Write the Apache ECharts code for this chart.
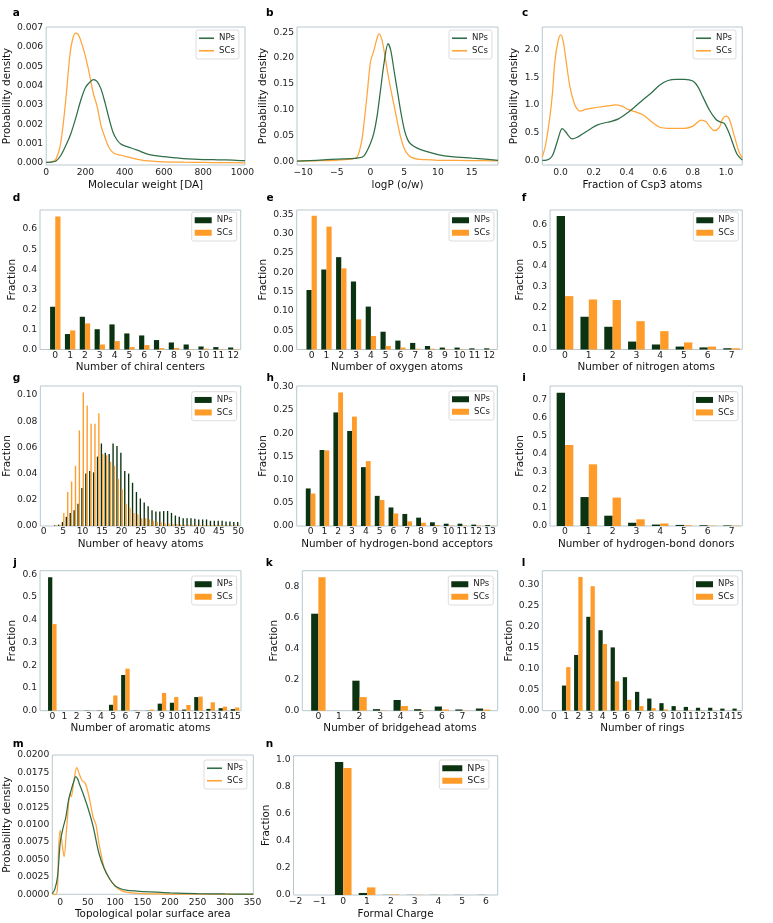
<!DOCTYPE html>
<html><head><meta charset="utf-8">
<script src="https://cdn.jsdelivr.net/npm/echarts@6/dist/echarts.min.js"></script>
<style>html,body{margin:0;padding:0;background:#fff}#c{width:773px;height:923px}</style>
</head><body><div id="c"></div>
<script>
// ---------------- DATA ----------------
// a: molecular weight KDE
const aNPsX = [0,25,50,75,100,125,150,175,200,225,240,260,280,300,320,340,360,380,400,440,480,520,600,650,700,750,800,850,900,950,1000,1013];
const aNPsY = [0.00003,0.00005,0.0001,0.0004,0.0009,0.0015,0.0023,0.0032,0.0039,0.0042,0.0043,0.0042,0.0038,0.0031,0.0023,0.0016,0.0012,0.00098,0.00088,0.00075,0.0006,0.00045,0.00033,0.00028,0.00023,0.0002,0.00018,0.00017,0.00016,0.00015,0.00012,0.00012];
const aSCsX = [0,25,50,75,100,120,135,150,165,180,200,220,240,260,280,300,320,345,380,420,460,500,600,700,800,900,1013];
const aSCsY = [0.00003,0.00005,0.0002,0.0011,0.0033,0.0055,0.0064,0.0067,0.0066,0.0062,0.0055,0.0046,0.0036,0.0029,0.0019,0.0013,0.0008,0.0005,0.0004,0.0003,0.0002,0.00012,0.00006,0.00004,0.00003,0.00002,0.00001];
// b: logP KDE
const bNPsX = [-10.9,-10,-8,-5,-3,-2,-1,0,0.5,1,1.5,2,2.6,3,3.5,4,4.5,5,5.5,6,7,8,10,12,15,17,18.9];
const bNPsY = [0.0005,0.0008,0.002,0.004,0.005,0.006,0.01,0.035,0.055,0.09,0.14,0.19,0.228,0.215,0.175,0.135,0.095,0.062,0.042,0.033,0.025,0.020,0.013,0.009,0.006,0.004,0.002];
const bSCsX = [-10.9,-8,-5,-3,-2,-1.3,-1,-0.5,0,0.5,1,1.3,1.7,2,2.5,3,3.5,4,4.5,5,5.5,6,7,8,10,15,18.9];
const bSCsY = [0.0005,0.001,0.002,0.004,0.008,0.04,0.07,0.13,0.193,0.215,0.24,0.247,0.235,0.215,0.175,0.14,0.108,0.075,0.045,0.025,0.014,0.008,0.004,0.003,0.002,0.0015,0.001];
// c: fraction Csp3 KDE
const cNPsX = [-0.111,-0.085,-0.06,-0.044,-0.02,0,0.01,0.03,0.05,0.07,0.1,0.137,0.18,0.22,0.28,0.3,0.35,0.4,0.45,0.5,0.55,0.6,0.65,0.7,0.75,0.8,0.83,0.86,0.9,0.94,0.97,0.99,1.02,1.065,1.099];
const cNPsY = [0.005,0.01,0.05,0.13,0.35,0.54,0.575,0.52,0.44,0.39,0.42,0.49,0.57,0.64,0.69,0.70,0.75,0.85,0.97,1.10,1.22,1.36,1.44,1.46,1.46,1.43,1.33,1.15,0.91,0.74,0.69,0.67,0.49,0.13,0.01];
const cSCsX = [-0.111,-0.09,-0.065,-0.05,-0.034,-0.015,0,0.015,0.03,0.056,0.08,0.097,0.117,0.15,0.2,0.25,0.3,0.33,0.37,0.4,0.45,0.5,0.55,0.6,0.65,0.7,0.75,0.8,0.85,0.88,0.9,0.93,0.96,0.98,1.0,1.02,1.05,1.08,1.099];
const cSCsY = [0.06,0.3,0.79,1.2,1.81,2.15,2.257,2.15,1.85,1.33,1.05,0.94,0.89,0.92,0.95,0.97,0.99,1.0,0.98,0.93,0.88,0.82,0.70,0.60,0.58,0.58,0.58,0.62,0.73,0.70,0.62,0.54,0.60,0.75,0.80,0.75,0.45,0.15,0.05];
// d: chiral centers
const dCats = [0,1,2,3,4,5,6,7,8,9,10,11,12];
const dNPs = [0.213,0.077,0.163,0.101,0.125,0.080,0.070,0.047,0.035,0.025,0.015,0.012,0.010];
const dSCs = [0.662,0.095,0.130,0.025,0.042,0.012,0.022,0.007,0.008,0.002,0.004,0.002,0.002];
// e: oxygen atoms
const eCats = [0,1,2,3,4,5,6,7,8,9,10,11,12];
const eNPs = [0.154,0.207,0.239,0.176,0.111,0.046,0.023,0.017,0.009,0.005,0.005,0.003,0.003];
const eSCs = [0.346,0.318,0.210,0.078,0.035,0.009,0.005,0.002,0.002,0.001,0.001,0.0005,0.0005];
// f: nitrogen atoms
const fCats = [0,1,2,3,4,5,6,7];
const fNPs = [0.640,0.157,0.109,0.038,0.024,0.014,0.010,0.006];
const fSCs = [0.256,0.240,0.237,0.136,0.088,0.034,0.014,0.006];
// g: heavy atoms
const gCats = [0,1,2,3,4,5,6,7,8,9,10,11,12,13,14,15,16,17,18,19,20,21,22,23,24,25,26,27,28,29,30,31,32,33,34,35,36,37,38,39,40,41,42,43,44,45,46,47,48,49,50];
const gNPs = [0,0,0,0.0005,0.001,0.003,0.007,0.010,0.012,0.017,0.029,0.040,0.042,0.041,0.053,0.063,0.056,0.055,0.063,0.061,0.056,0.042,0.040,0.033,0.026,0.021,0.018,0.015,0.012,0.011,0.011,0.0115,0.0115,0.010,0.008,0.007,0.006,0.006,0.006,0.0055,0.005,0.005,0.005,0.004,0.004,0.004,0.004,0.0035,0.0035,0.003,0.003];
const gSCs = [0,0,0,0.0005,0.001,0.010,0.026,0.034,0.046,0.073,0.102,0.092,0.078,0.078,0.086,0.055,0.054,0.049,0.046,0.036,0.028,0.017,0.014,0.010,0.009,0.006,0.006,0.005,0.004,0.003,0.003,0.002,0.002,0.0015,0.0015,0.001,0.001,0.001,0.001,0.001,0.001,0.0008,0.0008,0.0008,0.0007,0.0007,0.0006,0.0006,0.0005,0.0005,0.0005];
// h: H-bond acceptors
const hCats = [0,1,2,3,4,5,6,7,8,9,10,11,12,13];
const hNPs = [0.081,0.164,0.245,0.205,0.127,0.065,0.040,0.026,0.018,0.008,0.005,0.005,0.003,0.002];
const hSCs = [0.070,0.163,0.288,0.236,0.140,0.056,0.027,0.010,0.007,0.002,0.001,0.001,0.001,0.0005];
// i: H-bond donors
const iCats = [0,1,2,3,4,5,6,7];
const iNPs = [0.736,0.160,0.057,0.018,0.008,0.006,0.004,0.003];
const iSCs = [0.448,0.341,0.157,0.037,0.014,0.004,0.002,0.002];
// j: aromatic atoms
const jCats = [0,1,2,3,4,5,6,7,8,9,10,11,12,13,14,15];
const jNPs = [0.587,0,0,0.001,0.001,0.026,0.157,0.001,0.001,0.031,0.035,0.005,0.060,0.008,0.011,0.007];
const jSCs = [0.381,0,0,0.001,0.001,0.067,0.185,0.001,0.005,0.078,0.060,0.025,0.062,0.037,0.018,0.014];
// k: bridgehead atoms
const kCats = [0,1,2,3,4,5,6,7,8];
const kNPs = [0.627,0,0.194,0.010,0.069,0.010,0.027,0.008,0.014];
const kSCs = [0.863,0,0.088,0.002,0.030,0.002,0.008,0.002,0.007];
// l: rings
const lCats = [0,1,2,3,4,5,6,7,8,9,10,11,12,13,14,15];
const lNPs = [0,0.060,0.133,0.224,0.192,0.151,0.080,0.045,0.029,0.018,0.011,0.009,0.007,0.007,0.005,0.005];
const lSCs = [0,0.104,0.319,0.297,0.159,0.070,0.026,0.011,0.006,0.003,0.001,0.001,0.0005,0.0005,0.0003,0.0003];
// m: TPSA KDE
const mNPsX = [-14.5,-10,-5,0,5,10,15,20,25,28,32,35,40,50,60,70,80,90,100,110,120,140,150,175,200,250,300,351.5];
const mNPsY = [0.0001,0.0007,0.0025,0.0075,0.0095,0.011,0.0135,0.015,0.0163,0.0169,0.0165,0.0158,0.0148,0.0125,0.0097,0.006,0.0037,0.0022,0.0012,0.0008,0.0006,0.00045,0.0004,0.0003,0.0002,0.0001,0.00005,0.00002];
const mSCsX = [-14.5,-8,-5,-3,0,3,7,12,18,20,25,30,35,40,45,50,55,60,65,70,75,80,90,100,110,120,130,150,175,200,351.5];
const mSCsY = [0,0,0.001,0.0066,0.0092,0.0075,0.0054,0.0099,0.0145,0.014,0.0164,0.0182,0.0172,0.0163,0.016,0.0148,0.013,0.011,0.010,0.0075,0.0055,0.0038,0.0022,0.0012,0.0006,0.0003,0.0002,0.0001,0.00005,0.00002,0];
// n: formal charge
const nCats = [-2,-1,0,1,2,3,4,5,6];
const nNPs = [0,0,0.980,0.015,0.001,0.001,0.001,0.001,0.001];
const nSCs = [0,0,0.936,0.056,0.004,0.002,0.001,0.0005,0.0003];

// tick labels
const aXT=[0,200,400,600,800,1000], aYT=[0,0.001,0.002,0.003,0.004,0.005,0.006,0.007];
const bXT=[-10,-5,0,5,10,15], bYT=[0,0.05,0.1,0.15,0.2,0.25];
const cXT=[0,0.2,0.4,0.6,0.8,1.0], cYT=[0,0.5,1,1.5,2];
const dYT=[0,0.1,0.2,0.3,0.4,0.5,0.6];
const eYT=[0,0.05,0.1,0.15,0.2,0.25,0.3,0.35];
const fYT=[0,0.1,0.2,0.3,0.4,0.5,0.6];
const gXT=[0,5,10,15,20,25,30,35,40,45,50], gYT=[0,0.02,0.04,0.06,0.08,0.1];
const hYT=[0,0.05,0.1,0.15,0.2,0.25,0.3];
const iYT=[0,0.1,0.2,0.3,0.4,0.5,0.6,0.7];
const jYT=[0,0.1,0.2,0.3,0.4,0.5,0.6];
const kYT=[0,0.2,0.4,0.6,0.8];
const lYT=[0,0.05,0.1,0.15,0.2,0.25,0.3];
const mXT=[0,50,100,150,200,250,300,350], mYT=[0,0.0025,0.005,0.0075,0.01,0.0125,0.015,0.0175,0.02];
const nYT=[0,0.2,0.4,0.6,0.8,1.0];

// ---------------- STYLE / LAYOUT ----------------
const FONT='DejaVu Sans';
const C_LNP='#2f6e48', C_LSC='#ffa53a', C_BNP='#0b3311', C_BSC='#ff9b28';
const FRAME='#b9c8d0';
const zip=(xs,ys)=>xs.map((x,i)=>[x,ys[i]]);

const P=[
 {id:'a',k:'line',L:44,R:245,T:27,B:165,xr:[0,1013],yr:[-0.000103,0.00702],xt:aXT,yt:aYT,xd:0,yd:3,xn:'Molecular weight [DA]',yn:'Probability density',yg:25,xg:11,xm:3,leg:[196,30],s:[zip(aNPsX,aNPsY),zip(aSCsX,aSCsY)],lt:[12.7,7.5]},
 {id:'b',k:'line',L:297,R:498,T:27,B:165,xr:[-10.9,18.9],yr:[-0.0072,0.2603],xt:bXT,yt:bYT,xd:0,yd:2,xn:'logP (o/w)',yn:'Probability density',yg:22,xg:11,xm:3,leg:[449,30],s:[zip(bNPsX,bNPsY),zip(bSCsX,bSCsY)],lt:[266,7.5]},
 {id:'c',k:'line',L:542.3,R:742.3,T:27,B:165,xr:[-0.111,1.099],yr:[-0.077,2.40],xt:cXT,yt:cYT,xd:1,yd:1,xn:'Fraction of Csp3 atoms',yn:'Probability density',yg:16,xg:11,xm:3,leg:[693,30],s:[zip(cNPsX,cNPsY),zip(cSCsX,cSCsY)],lt:[522,7.5]},
 {id:'d',k:'bar',L:40,R:240.7,T:210,B:349.5,xr:[-1.03,12.5],yr:[0,0.695],xt:dCats,yt:dYT,xd:0,yd:1,xn:'Number of chiral centers',yn:'Fraction',yg:16,xg:6.5,xm:1,leg:[191.7,212],c:dCats,s:[dNPs,dSCs],lt:[12.7,192.5]},
 {id:'e',k:'bar',L:296.7,R:497.3,T:210,B:349.5,xr:[-1.01,12.54],yr:[0,0.361],xt:eCats,yt:eYT,xd:0,yd:2,xn:'Number of oxygen atoms',yn:'Fraction',yg:21.5,xg:6.5,xm:1,leg:[449,212],c:eCats,s:[eNPs,eSCs],lt:[266.5,192.5]},
 {id:'f',k:'bar',L:550,R:742.3,T:210,B:349.5,xr:[-0.63,7.45],yr:[0,0.669],xt:fCats,yt:fYT,xd:0,yd:1,xn:'Number of nitrogen atoms',yn:'Fraction',yg:24,xg:7.5,xm:1,leg:[693.3,212],c:fCats,s:[fNPs,fSCs],lt:[521.7,192.5]},
 {id:'g',k:'bar',L:40,R:240.7,T:386,B:526,xr:[-0.85,50.6],yr:[0,0.1069],xt:gXT,yt:gYT,xd:0,yd:2,xn:'Number of heavy atoms',yn:'Fraction',yg:20.5,xg:7,xm:1,leg:[191.7,391.7],c:gCats,s:[gNPs,gSCs],lt:[12.7,373]},
 {id:'h',k:'bar',L:296.7,R:497.3,T:386,B:526,xr:[-1.01,13.53],yr:[0,0.302],xt:hCats,yt:hYT,xd:0,yd:2,xn:'Number of hydrogen-bond acceptors',yn:'Fraction',yg:21.5,xg:7,xm:1,leg:[449,391],c:hCats,s:[hNPs,hSCs],lt:[266.5,373]},
 {id:'i',k:'bar',L:550,R:742.3,T:386,B:526,xr:[-0.63,7.45],yr:[0,0.774],xt:iCats,yt:iYT,xd:0,yd:1,xn:'Number of hydrogen-bond donors',yn:'Fraction',yg:24,xg:7,xm:1,leg:[693,391.7],c:iCats,s:[iNPs,iSCs],lt:[522.3,373]},
 {id:'j',k:'bar',L:40,R:241,T:570.7,B:710.7,xr:[-1.01,15.49],yr:[0,0.616],xt:jCats,yt:jYT,xd:0,yd:1,xn:'Number of aromatic atoms',yn:'Fraction',yg:16,xg:9,xm:1,leg:[191.7,576],c:jCats,s:[jNPs,jSCs],lt:[13.3,557.5]},
 {id:'k',k:'bar',L:302.3,R:497.7,T:570.7,B:710.7,xr:[-0.78,8.71],yr:[0,0.905],xt:kCats,yt:kYT,xd:0,yd:1,xn:'Number of bridgehead atoms',yn:'Fraction',yg:21,xg:9,xm:1,leg:[448.3,576],c:kCats,s:[kNPs,kSCs],lt:[265.7,557.5]},
 {id:'l',k:'bar',L:542.3,R:742.3,T:570.7,B:710.7,xr:[-0.96,15.46],yr:[0,0.334],xt:lCats,yt:lYT,xd:0,yd:2,xn:'Number of rings',yn:'Fraction',yg:22,xg:9,xm:1,leg:[693,576],c:lCats,s:[lNPs,lSCs],lt:[521.7,557.5]},
 {id:'m',k:'line',L:52.3,R:253.3,T:755,B:894.3,xr:[-14.5,351.5],yr:[0,0.02],xt:mXT,yt:mYT,xd:0,yd:4,xn:'Topological polar surface area',yn:'Probability density',yg:31,xg:8.5,xm:3,leg:[204,760],s:[zip(mNPsX,mNPsY),zip(mSCsX,mSCsY)],lt:[12.7,739]},
 {id:'n',k:'bar',L:293.5,R:497.7,T:755.7,B:895,xr:[-2.09,6.49],yr:[0,1.027],xt:nCats,yt:nYT,xd:0,yd:1,xn:'Formal Charge',yn:'Fraction',yg:12.5,xg:9.5,xm:2,leg:[439.3,760],c:nCats,s:[nNPs,nSCs],lt:[265.7,739],big:true}
];

function fmt(v,d){const s=Math.abs(v).toFixed(d);return (v<0?'\u2212':'')+s;}

const option={animation:false,textStyle:{fontFamily:FONT},grid:[],xAxis:[],yAxis:[],series:[],legend:[],title:[]};
P.forEach((p,i)=>{
  option.grid.push({left:p.L,top:p.T,width:p.R-p.L,height:p.B-p.T,show:true,borderColor:FRAME,borderWidth:1,containLabel:false});
  option.xAxis.push({type:'value',gridIndex:i,min:p.xr[0],max:p.xr[1],
    axisLine:{show:false},axisTick:{show:false},splitLine:{show:false},
    axisLabel:{customValues:p.xt,formatter:(v)=>fmt(v,p.xd),fontSize:9.2,color:'#222',margin:p.xm,lineHeight:10,hideOverlap:false},
    name:p.xn,nameLocation:'middle',nameGap:p.xg,nameTextStyle:{fontSize:10.4,color:'#111',lineHeight:12}});
  option.yAxis.push({type:'value',gridIndex:i,min:p.yr[0],max:p.yr[1],
    axisLine:{show:false},axisTick:{show:false},splitLine:{show:false},
    axisLabel:{customValues:p.yt,formatter:(v)=>fmt(v,p.yd),fontSize:9.2,color:'#222',margin:3,hideOverlap:false},
    name:p.yn,nameLocation:'middle',nameGap:p.yg,nameTextStyle:{fontSize:10.4,color:'#111',lineHeight:12}});
  const isLine=p.k==='line';
  const cols=isLine?[C_LNP,C_LSC]:[C_BNP,C_BSC];
  ['NPs','SCs'].forEach((nm,j)=>{
    if(isLine){
      option.series.push({type:'line',name:nm,xAxisIndex:i,yAxisIndex:i,data:p.s[j],symbol:'none',showSymbol:false,smooth:0.3,
        lineStyle:{width:1.25,color:cols[j]},itemStyle:{color:cols[j]},z:j===0?3:2});
    } else {
      option.series.push({type:'bar',name:nm,xAxisIndex:i,yAxisIndex:i,data:zip(p.c,p.s[j]),barWidth:'35%',barGap:'0%',
        itemStyle:{color:cols[j]}});
    }
  });
  const fs=p.big?9.5:8.6;
  option.legend.push({orient:'vertical',left:p.leg[0],top:p.leg[1],padding:[2,4,2,3],itemGap:0,
    itemWidth:isLine?15:(p.big?20:17),itemHeight:isLine?1.6:6,icon:'rect',selectedMode:false,
    backgroundColor:'rgba(255,255,255,0.8)',borderColor:'#d4d4d4',borderWidth:0.8,borderRadius:2,
    textStyle:{fontSize:fs,color:'#222',lineHeight:12.5},
    data:[{name:'NPs',itemStyle:{color:cols[0],borderWidth:0}},{name:'SCs',itemStyle:{color:cols[1],borderWidth:0}}]});
  option.title.push({text:p.id,left:p.lt[0],top:p.lt[1],padding:0,textStyle:{fontSize:10.5,fontWeight:'bold',color:'#000'}});
});

const chart=echarts.init(document.getElementById('c'),null,{renderer:'canvas'});
chart.setOption(option);
</script>
</body></html>
